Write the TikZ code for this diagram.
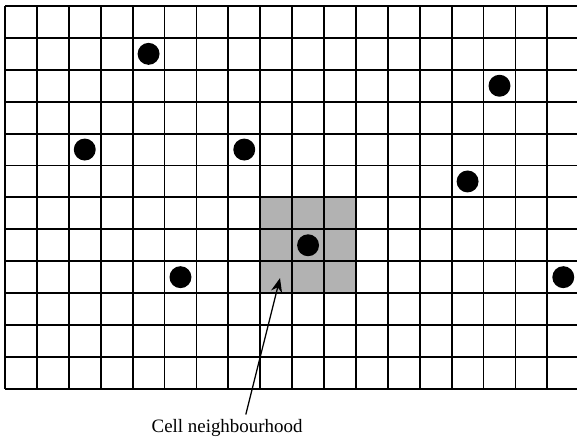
\documentclass[tikz,border=0pt]{standalone}
\usepackage{fontspec}
\setmainfont{Liberation Serif}
\usepackage{tikz}
\usetikzlibrary{arrows.meta, positioning}

\begin{document}
\begin{tikzpicture}[
        x=0.8cm, y=-0.8cm,
        gridline/.style={line width=1.3pt},
        nbhd/.style={fill=black!30},
        agent/.style={circle, fill=black, inner sep=0pt, minimum size=0.55cm},
        textlabel/.style={font=\fontsize{13.5}{16}\selectfont, align=center},
        arrow/.style={-{Stealth[length=10pt, width=8pt]}, line width=0.9pt},
    ]
        \clip (-0.157,-0.188) rectangle (17.93,13.64);

        % neighbourhood of the centre cell
        \fill[nbhd] (8,6) rectangle (11,9);
        \foreach \col in {0,...,18}
            \draw[gridline] (\col,0) -- (\col,12);
        \foreach \row in {0,...,12}
            \draw[gridline] (0,\row) -- (18,\row);

        % occupied cells
        \node[agent] (a1) at (4.5,1.5) {};
        \node[agent] (a2) at (15.5,2.5) {};
        \node[agent] (a3) at (2.5,4.5) {};
        \node[agent] (a4) at (7.5,4.5) {};
        \node[agent] (a5) at (14.5,5.5) {};
        \node[agent] (a6) at (9.5,7.5) {};
        \node[agent] (a7) at (5.5,8.5) {};
        \node[agent] (a8) at (17.5,8.5) {};

        \node[textlabel] (nbhdlabel) at (6.96,13.23) {Cell neighbourhood};
        \coordinate (tip) at (8.62,8.53);
        \draw[arrow] ([xshift=0.47cm]nbhdlabel.north) -- (tip);
    \end{tikzpicture}
\end{document}
